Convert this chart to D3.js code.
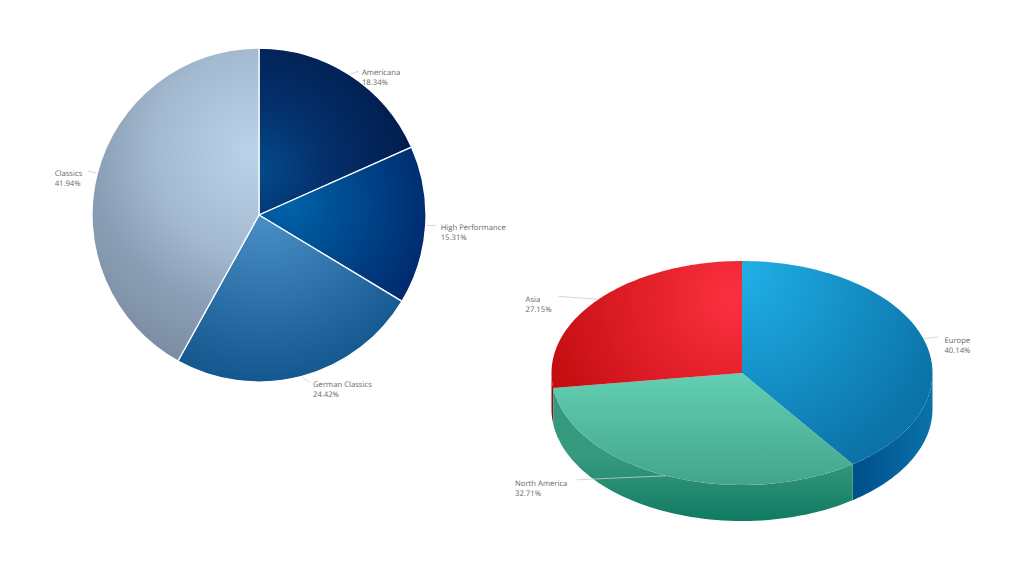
<!DOCTYPE html>
<html><head><meta charset="utf-8">
<script src="https://cdn.jsdelivr.net/npm/d3@7"></script>
<style>html,body{margin:0;padding:0;background:#fff}svg{display:block}
text{font-family:"Open Sans",sans-serif;font-size:7.7px;fill:#666;text-rendering:geometricPrecision;opacity:.99}</style></head><body>
<svg id="c" width="1024" height="574"></svg>
<script>
// data
const flatCategories = ["Americana","High Performance","German Classics","Classics"];
const flatValues = [18.34,15.31,24.42,41.94];
const tiltCategories = ["Europe","North America","Asia"];
const tiltValues = [40.14,32.71,27.15];

// style
const flatGrad = [
  {c:[0,-45],r:165,s:[[0,"#044a8a"],[0.4,"#04306c"],[1,"#011a48"]]},
  {c:[30,-10],r:150,s:[[0,"#0062a8"],[1,"#00286c"]]},
  {c:[6,-10],r:180,s:[[0,"#4c92c9"],[1,"#14568e"]]},
  {c:[-4,-63],r:217,s:[[0,"#bdd3e9"],[0.46,"#a4bad1"],[0.74,"#8a9fb6"],[1,"#7c8ea3"]]}
];
const flatLeader = [[9,-4],[10,0],[8,6],[-9,-2]];
const flatText = [[12,-3],[15,2],[11,8],[-15,0]];
const tiltLeader = [[15,-2],[-90,4],[-40,-3]];
const tiltText = [[21,1],[-99,7],[-47,0]];
const tiltTop = [
  {c:[0,-100],r:215,s:[[0,"#1fafe6"],[1,"#0b73a8"]]},
  {a:[0,0],b:[0,1],s:["#63cfb2","#42a58b"]},
  {c:[-10,-75],r:195,s:[[0,"#fc3040"],[1,"#c30d10"]]}
];
const tiltWall = [
  {a:[0.6,0],b:[1,0],s:["#00508a","#0b72ab"]},
  {a:[0,0.75],b:[0,1.32],s:["#35997e","#107b62"]},
  {a:[0,0],b:[0,1],s:["#8c1215","#8c1215"]}
];

const svg = d3.select("#c"), defs = svg.append("defs");
const pct = v => d3.format(".2f")(v)+"%";
function grad(id,g,cx,cy,rx,ry){
  let el;
  if(g.c){
    el = defs.append("radialGradient").attr("id",id).attr("gradientUnits","userSpaceOnUse")
      .attr("cx",cx+g.c[0]).attr("cy",cy+g.c[1]).attr("r",g.r);
    g.s.forEach(([o,c])=>el.append("stop").attr("offset",o).attr("stop-color",c));
  } else {
    el = defs.append("linearGradient").attr("id",id).attr("gradientUnits","userSpaceOnUse")
      .attr("x1",cx+g.a[0]*rx).attr("y1",cy+g.a[1]*ry).attr("x2",cx+g.b[0]*rx).attr("y2",cy+g.b[1]*ry);
    g.s.forEach((c,i)=>el.append("stop").attr("offset",i).attr("stop-color",c));
  }
  return `url(#${id})`;
}
function label(x,y,ex,ey,tx0,ty0,name,val){
  svg.append("line").attr("x1",x).attr("y1",y).attr("x2",ex).attr("y2",ey)
    .attr("stroke","#c9cdd0").attr("stroke-width",0.8);
  const right = ex>x;
  const t = svg.append("text").attr("y",ty0+3);
  t.append("tspan").text(name);
  t.append("tspan").attr("dy",9.7).text(val);
  const ts = t.selectAll("tspan").nodes();
  const w = Math.max(...ts.map(n=>n.getComputedTextLength()));
  t.selectAll("tspan").attr("x",right ? tx0 : tx0-w);
}

// flat pie
const fx=259, fy=215, fr=167;
const pie = d3.pie().sort(null).value(d=>d);
const fArc = d3.arc().innerRadius(0).outerRadius(fr);
pie(flatValues).forEach((d,i)=>{
  svg.append("path").attr("transform",`translate(${fx},${fy})`).attr("d",fArc(d))
    .attr("fill",grad("f"+i,flatGrad[i],0,0,fr,fr)).attr("stroke","#fff").attr("stroke-width",1.3).attr("stroke-linejoin","round");
});
pie(flatValues).forEach((d,i)=>{
  const m=(d.startAngle+d.endAngle)/2;
  const x=fx+fr*Math.sin(m), y=fy-fr*Math.cos(m);
  label(x+Math.sin(m),y-Math.cos(m),x+flatLeader[i][0],y+flatLeader[i][1],x+flatText[i][0],y+flatText[i][1],flatCategories[i],pct(flatValues[i]));
});

// tilted pie
const tx=742, ty=373, trx=190.5, try_=112, depth=36;
const px=a=>tx+trx*Math.sin(a), py=a=>ty-try_*Math.cos(a);
const arcs = pie(tiltValues);
const line = d3.line();
const wallOrder=[2,0,1];
wallOrder.forEach(i=>{
  const d=arcs[i];
  const lo=Math.max(d.startAngle,Math.PI/2), hi=Math.min(d.endAngle,3*Math.PI/2);
  if(hi<=lo) return;
  const an=d3.range(0,61).map(k=>lo+(hi-lo)*k/60);
  const pts=an.map(a=>[px(a),py(a)]).concat(an.slice().reverse().map(a=>[px(a),py(a)+depth]));
  svg.append("path").attr("d",line(pts)+"Z").attr("fill",grad("w"+i,tiltWall[i],tx,ty,trx,try_));
});
arcs.forEach((d,i)=>{
  const n=Math.max(8,Math.ceil((d.endAngle-d.startAngle)*40));
  const pts=[[tx,ty]].concat(d3.range(0,n+1).map(k=>{const a=d.startAngle+(d.endAngle-d.startAngle)*k/n;return [px(a),py(a)];}));
  svg.append("path").attr("d",line(pts)+"Z").attr("fill",grad("t"+i,tiltTop[i],tx,ty,trx,try_));
});
arcs.forEach((d,i)=>{
  const m=(d.startAngle+d.endAngle)/2;
  const x=px(m), y=py(m);
  label(x,y,x+tiltLeader[i][0],y+tiltLeader[i][1],x+tiltText[i][0],y+tiltText[i][1],tiltCategories[i],pct(tiltValues[i]));
});
</script></body></html>
